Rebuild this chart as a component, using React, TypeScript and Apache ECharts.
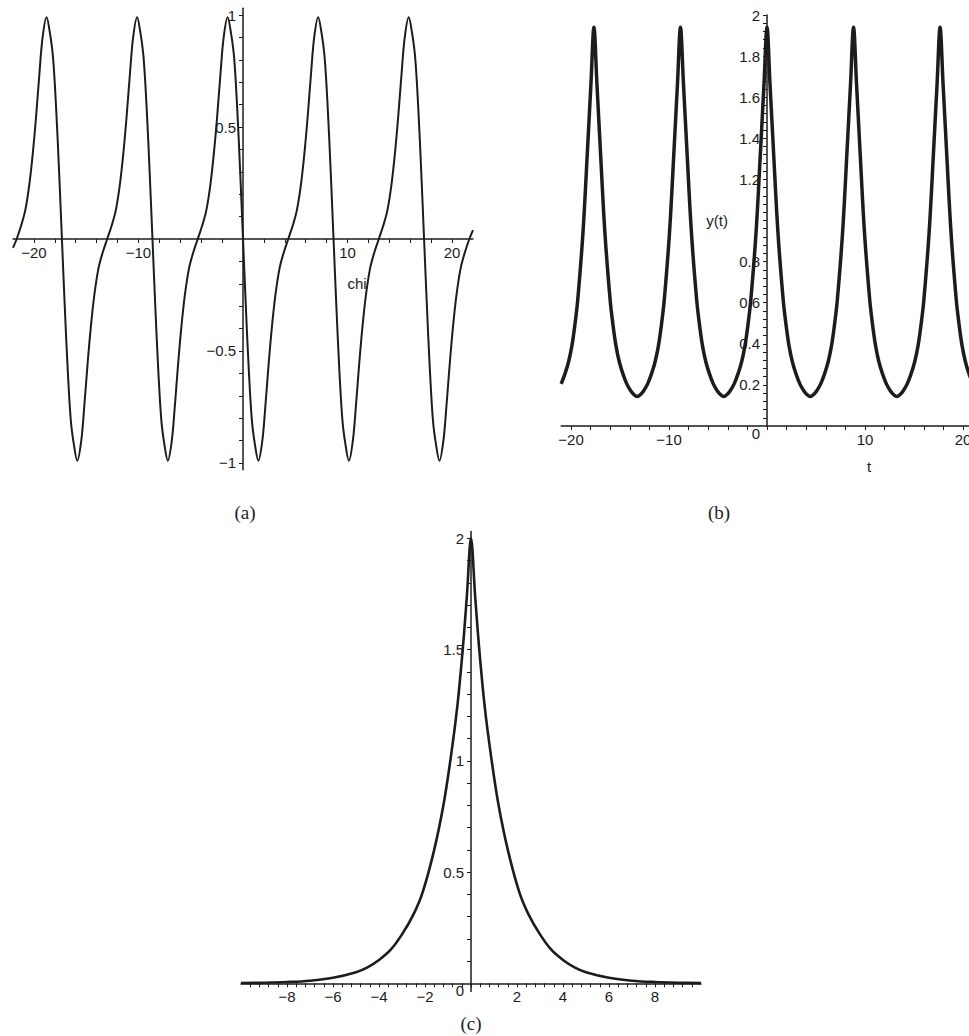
import React, { useEffect, useRef } from "react";
import * as echarts from "echarts";

// ---------- (a) chi plot ----------
const chiData: [number, number][] = [
  [-22.0, -0.04], [-21.65, 0], [-21.22, 0.06], [-20.82, 0.13], [-20.42, 0.25], [-20.07, 0.4], [-19.77, 0.56], [-19.47, 0.74], [-19.17, 0.9],
  [-18.79, 0.99], [-18.47, 0.92], [-18.17, 0.81], [-17.87, 0.58], [-17.6, 0.31], [-17.32, 0], [-17.04, -0.31], [-16.77, -0.58], [-16.47, -0.81], [-16.17, -0.92], [-15.85, -0.99],
  [-15.47, -0.9], [-15.17, -0.74], [-14.87, -0.56], [-14.57, -0.4], [-14.22, -0.25], [-13.82, -0.13], [-13.42, -0.06], [-12.99, 0], [-12.56, 0.06], [-12.16, 0.13], [-11.76, 0.25], [-11.41, 0.4], [-11.11, 0.56], [-10.81, 0.74], [-10.51, 0.9],
  [-10.13, 0.99], [-9.81, 0.92], [-9.51, 0.81], [-9.21, 0.58], [-8.94, 0.31], [-8.66, 0], [-8.38, -0.31], [-8.11, -0.58], [-7.81, -0.81], [-7.51, -0.92], [-7.19, -0.99],
  [-6.81, -0.9], [-6.51, -0.74], [-6.21, -0.56], [-5.91, -0.4], [-5.56, -0.25], [-5.16, -0.13], [-4.76, -0.06], [-4.33, 0], [-3.9, 0.06], [-3.5, 0.13], [-3.1, 0.25], [-2.75, 0.4], [-2.45, 0.56], [-2.15, 0.74], [-1.85, 0.9],
  [-1.47, 0.99], [-1.15, 0.92], [-0.85, 0.81], [-0.55, 0.58], [-0.28, 0.31], [0, 0], [0.28, -0.31], [0.55, -0.58], [0.85, -0.81], [1.15, -0.92], [1.47, -0.99],
  [1.85, -0.9], [2.15, -0.74], [2.45, -0.56], [2.75, -0.4], [3.1, -0.25], [3.5, -0.13], [3.9, -0.06], [4.33, 0], [4.76, 0.06], [5.16, 0.13], [5.56, 0.25], [5.91, 0.4], [6.21, 0.56], [6.51, 0.74], [6.81, 0.9],
  [7.19, 0.99], [7.51, 0.92], [7.81, 0.81], [8.11, 0.58], [8.38, 0.31], [8.66, 0], [8.94, -0.31], [9.21, -0.58], [9.51, -0.81], [9.81, -0.92], [10.13, -0.99],
  [10.51, -0.9], [10.81, -0.74], [11.11, -0.56], [11.41, -0.4], [11.76, -0.25], [12.16, -0.13], [12.56, -0.06], [12.99, 0], [13.42, 0.06], [13.82, 0.13], [14.22, 0.25], [14.57, 0.4], [14.87, 0.56], [15.17, 0.74], [15.47, 0.9],
  [15.85, 0.99], [16.17, 0.92], [16.47, 0.81], [16.77, 0.58], [17.04, 0.31], [17.32, 0], [17.6, -0.31], [17.87, -0.58], [18.17, -0.81], [18.47, -0.92], [18.79, -0.99],
  [19.17, -0.9], [19.47, -0.74], [19.77, -0.56], [20.07, -0.4], [20.42, -0.25], [20.82, -0.13], [21.22, -0.06], [21.65, 0], [22.0, 0.04],
];
const aXLabels = [-20, -10, 10, 20];
const aXTicks = [-20, -18, -16, -14, -12, -10, -8, -6, -4, -2, 2, 4, 6, 8, 10, 12, 14, 16, 18, 20];
const aYLabels = [-1, -0.5, 0.5, 1];
const aYTicks = [-1, -0.9, -0.8, -0.7, -0.6, -0.5, -0.4, -0.3, -0.2, -0.1, 0.1, 0.2, 0.3, 0.4, 0.5, 0.6, 0.7, 0.8, 0.9, 1];

// ---------- (b) y(t) plot ----------
const ytData: [number, number][] = [
  [-21.0, 0.205], [-20.61, 0.255], [-20.26, 0.31], [-19.91, 0.39], [-19.61, 0.49], [-19.32, 0.61], [-18.78, 0.94], [-18.31, 1.35], [-17.96, 1.67],
  [-17.66, 1.94], [-17.36, 1.67], [-17.01, 1.35], [-16.54, 0.94], [-16.0, 0.61], [-15.71, 0.49], [-15.41, 0.39], [-15.06, 0.31], [-14.71, 0.255], [-14.31, 0.205], [-13.91, 0.172], [-13.56, 0.152], [-13.245, 0.143],
  [-12.93, 0.152], [-12.58, 0.172], [-12.18, 0.205], [-11.78, 0.255], [-11.43, 0.31], [-11.08, 0.39], [-10.78, 0.49], [-10.49, 0.61], [-9.95, 0.94], [-9.48, 1.35], [-9.13, 1.67],
  [-8.83, 1.94], [-8.53, 1.67], [-8.18, 1.35], [-7.71, 0.94], [-7.17, 0.61], [-6.88, 0.49], [-6.58, 0.39], [-6.23, 0.31], [-5.88, 0.255], [-5.48, 0.205], [-5.08, 0.172], [-4.73, 0.152], [-4.415, 0.143],
  [-4.1, 0.152], [-3.75, 0.172], [-3.35, 0.205], [-2.95, 0.255], [-2.6, 0.31], [-2.25, 0.39], [-1.95, 0.49], [-1.66, 0.61], [-1.12, 0.94], [-0.65, 1.35], [-0.3, 1.67],
  [0, 1.94], [0.3, 1.67], [0.65, 1.35], [1.12, 0.94], [1.66, 0.61], [1.95, 0.49], [2.25, 0.39], [2.6, 0.31], [2.95, 0.255], [3.35, 0.205], [3.75, 0.172], [4.1, 0.152], [4.415, 0.143],
  [4.73, 0.152], [5.08, 0.172], [5.48, 0.205], [5.88, 0.255], [6.23, 0.31], [6.58, 0.39], [6.88, 0.49], [7.17, 0.61], [7.71, 0.94], [8.18, 1.35], [8.53, 1.67],
  [8.83, 1.94], [9.13, 1.67], [9.48, 1.35], [9.95, 0.94], [10.49, 0.61], [10.78, 0.49], [11.08, 0.39], [11.43, 0.31], [11.78, 0.255], [12.18, 0.205], [12.58, 0.172], [12.93, 0.152], [13.245, 0.143],
  [13.56, 0.152], [13.91, 0.172], [14.31, 0.205], [14.71, 0.255], [15.06, 0.31], [15.41, 0.39], [15.71, 0.49], [16.0, 0.61], [16.54, 0.94], [17.01, 1.35], [17.36, 1.67],
  [17.66, 1.94], [17.96, 1.67], [18.31, 1.35], [18.78, 0.94], [19.32, 0.61], [19.61, 0.49], [19.91, 0.39], [20.26, 0.31], [20.61, 0.255], [21.0, 0.205],
];
const bXLabels = [-20, -10, 10, 20];
const bXTicks = [-20, -18, -16, -14, -12, -10, -8, -6, -4, -2, 0, 2, 4, 6, 8, 10, 12, 14, 16, 18, 20];
const bYLabels = [0, 0.2, 0.4, 0.6, 0.8, 1.2, 1.4, 1.6, 1.8, 2];
const bYTicks = [
  0.04, 0.08, 0.12, 0.16, 0.2, 0.24, 0.28, 0.32, 0.36, 0.4, 0.44, 0.48, 0.52, 0.56, 0.6, 0.64, 0.68, 0.72, 0.76, 0.8,
  0.84, 0.88, 0.92, 0.96, 1.0, 1.04, 1.08, 1.12, 1.16, 1.2, 1.24, 1.28, 1.32, 1.36, 1.4, 1.44, 1.48, 1.52, 1.56, 1.6,
  1.64, 1.68, 1.72, 1.76, 1.8, 1.84, 1.88, 1.92, 1.96, 2.0,
];

// ---------- (c) peak plot ----------
const peakData: [number, number][] = [
  [-10, 0.0015], [-9, 0.003], [-8, 0.006], [-7, 0.012], [-6, 0.025], [-5, 0.05], [-4.5, 0.072], [-4, 0.105], [-3.5, 0.15], [-3, 0.22],
  [-2.5, 0.31], [-2.1, 0.41], [-1.6, 0.6], [-1.2, 0.8], [-0.9, 1.0], [-0.6, 1.24], [-0.36, 1.5], [-0.18, 1.74], [0, 2.0],
  [0.18, 1.74], [0.36, 1.5], [0.6, 1.24], [0.9, 1.0], [1.2, 0.8], [1.6, 0.6], [2.1, 0.41], [2.5, 0.31], [3, 0.22], [3.5, 0.15],
  [4, 0.105], [4.5, 0.072], [5, 0.05], [6, 0.025], [7, 0.012], [8, 0.006], [9, 0.003], [10, 0.0015],
];
const cXLabels = [-8, -6, -4, -2, 2, 4, 6, 8];
const cXTicks = [
  -9.6, -9.2, -8.8, -8.4, -8, -7.6, -7.2, -6.8, -6.4, -6, -5.6, -5.2, -4.8, -4.4, -4, -3.6, -3.2, -2.8, -2.4, -2, -1.6, -1.2, -0.8, -0.4, 0,
  0.4, 0.8, 1.2, 1.6, 2, 2.4, 2.8, 3.2, 3.6, 4, 4.4, 4.8, 5.2, 5.6, 6, 6.4, 6.8, 7.2, 7.6, 8, 8.4, 8.8, 9.2, 9.6,
];
const cYLabels = [0, 0.5, 1, 1.5, 2];
const cYTicks = [0.1, 0.2, 0.3, 0.4, 0.5, 0.6, 0.7, 0.8, 0.9, 1, 1.1, 1.2, 1.3, 1.4, 1.5, 1.6, 1.7, 1.8, 1.9, 2];

const captions = ["(a)", "(b)", "(c)"];

const INK = "#1c1c1c";
const SANS = "Liberation Sans, Arial, sans-serif";
const SERIF = "Liberation Serif, Times New Roman, serif";

const fmt = (v: number) => (v < 0 ? "\u2212" + String(Math.abs(v)) : String(v));
const fmtZero = (v: number) => (v === 0 ? "{z|0}" : fmt(v));

const labelStyle = { color: INK, fontSize: 15, fontFamily: SANS };

// grid boxes in pixels
const G = [
  { left: 13, top: 8.3, width: 460, height: 461.4 },
  { left: 561.2, top: 15, width: 411.6, height: 411 },
  { left: 241, top: 531.6, width: 460, height: 460 },
];

function xAxisCfg(grid: number, min: number, max: number, labels: number[], ticks: number[], offset: number, extra: any = {}) {
  return {
    type: "value",
    gridIndex: grid,
    min,
    max,
    offset,
    axisLine: { onZero: false, lineStyle: { color: INK, width: 1.5 } },
    axisTick: { show: true, customValues: ticks, length: 4, lineStyle: { color: INK, width: 1 } },
    axisLabel: { customValues: labels, formatter: fmt, margin: 6, ...labelStyle },
    splitLine: { show: false },
    ...extra,
  };
}
function yAxisCfg(grid: number, min: number, max: number, labels: number[], ticks: number[], offset: number, extra: any = {}) {
  return {
    type: "value",
    gridIndex: grid,
    min,
    max,
    offset,
    axisLine: { onZero: false, lineStyle: { color: INK, width: 1.5 } },
    axisTick: { show: true, customValues: ticks, length: 4, lineStyle: { color: INK, width: 1 } },
    axisLabel: {
      customValues: labels,
      formatter: fmtZero,
      margin: 7,
      ...labelStyle,
      rich: { z: { ...labelStyle, padding: [14, 0, 0, 0] } },
    },
    splitLine: { show: false },
    ...extra,
  };
}

export default function App() {
  const ref = useRef<HTMLDivElement>(null);
  useEffect(() => {
    document.body.style.margin = "0";
    if (!ref.current) return;
    const chart = echarts.init(ref.current, null, { renderer: "svg" });
    chart.setOption({
      animation: false,
      backgroundColor: "#ffffff",
      grid: G.map((g) => ({ ...g, containLabel: false, outerBoundsMode: "none" })),
      xAxis: [
        xAxisCfg(0, -22, 22, aXLabels, aXTicks, -230.7, {
          name: "chi",
          nameLocation: "middle",
          nameGap: 37,
          nameTextStyle: { ...labelStyle, padding: [0, 0, 0, 228] },
        }),
        xAxisCfg(1, -21, 21, bXLabels, bXTicks, 0, {
          name: "t",
          nameLocation: "middle",
          nameGap: 33,
          nameTextStyle: { ...labelStyle, padding: [0, 0, 0, 204] },
        }),
        xAxisCfg(2, -10, 10, cXLabels, cXTicks, -8.3),
      ],
      yAxis: [
        yAxisCfg(0, -1.03, 1.03, aYLabels, aYTicks, -230),
        yAxisCfg(1, 0, 2, bYLabels, bYTicks, -205.8, {
          name: "y(t)",
          nameLocation: "middle",
          nameRotate: 0,
          nameGap: 39,
          nameTextStyle: { ...labelStyle },
        }),
        yAxisCfg(2, -0.037, 2.03, cYLabels, cYTicks, -230),
      ],
      series: [
        {
          type: "line", xAxisIndex: 0, yAxisIndex: 0, data: chiData, showSymbol: false, smooth: 0.35,
          lineStyle: { color: INK, width: 2 },
        },
        {
          type: "line", xAxisIndex: 1, yAxisIndex: 1, data: ytData, showSymbol: false, smooth: 0.35,
          lineStyle: { color: INK, width: 3.5 },
        },
        {
          type: "line", xAxisIndex: 2, yAxisIndex: 2, data: peakData, showSymbol: false, smooth: 0.35,
          lineStyle: { color: INK, width: 2.6 },
        },
      ],
      graphic: [
        { type: "text", x: 245, y: 512, style: { text: captions[0], font: `19px ${SERIF}`, fill: INK, align: "center", verticalAlign: "middle" } },
        { type: "text", x: 719, y: 512, style: { text: captions[1], font: `19px ${SERIF}`, fill: INK, align: "center", verticalAlign: "middle" } },
        { type: "text", x: 471, y: 1023, style: { text: captions[2], font: `19px ${SERIF}`, fill: INK, align: "center", verticalAlign: "middle" } },
      ],
    });
    return () => chart.dispose();
  }, []);
  return <div ref={ref} style={{ width: 969, height: 1036 }} />;
}
